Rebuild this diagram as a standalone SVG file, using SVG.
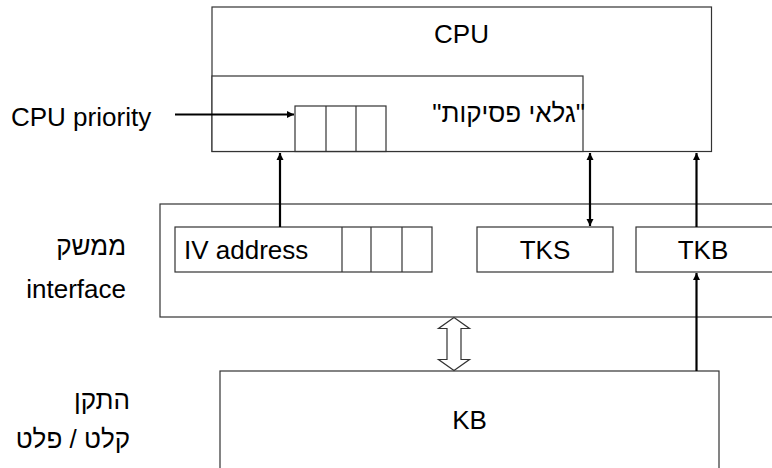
<svg xmlns="http://www.w3.org/2000/svg" width="772" height="468" viewBox="0 0 772 468">
<style>
.box{fill:#fff;stroke:#333;stroke-width:1.2}
.cell{fill:none;stroke:#333;stroke-width:1.2}
.t{font-family:"Liberation Sans",Arial,sans-serif;font-size:26px;fill:#000}
.c{stroke:#000;stroke-width:2.2;fill:none}
.hollow{fill:#fff;stroke:#333;stroke-width:1.2}
</style>
<defs>
<marker id="ah" viewBox="0 0 10 10" refX="10" refY="5" markerWidth="3.4" markerHeight="3.4" markerUnits="strokeWidth" orient="auto-start-reverse">
<path d="M0,0 L10,5 L0,10 z" fill="#000"/>
</marker>
</defs>
<rect width="772" height="468" fill="#fff"/>
<g id="cpu">
<rect class="box" x="212" y="7" width="499.5" height="144.5"/>
<text class="t" x="461.5" y="43" text-anchor="middle">CPU</text>
</g>
<g id="interrupt-detector">
<rect class="box" x="212" y="76" width="371" height="75.5"/>
<text class="t" x="585" y="122" text-anchor="end">"גלאי פסיקות"</text>
</g>
<g id="priority-register">
<rect class="cell" x="295" y="106" width="91" height="45.5"/>
<line class="cell" x1="326" y1="106" x2="326" y2="151.5"/>
<line class="cell" x1="356" y1="106" x2="356" y2="151.5"/>
</g>
<g id="cpu-priority-label">
<text class="t" x="11" y="126">CPU priority</text>
</g>
<g id="interface">
<rect class="box" x="160" y="204" width="630" height="113"/>
</g>
<g id="interface-label">
<text class="t" x="126" y="255" text-anchor="end">ממשק</text>
<text class="t" x="126" y="298" text-anchor="end">interface</text>
</g>
<g id="iv-address">
<rect class="box" x="175" y="227" width="257" height="45"/>
<line class="cell" x1="342" y1="227" x2="342" y2="272"/>
<line class="cell" x1="371" y1="227" x2="371" y2="272"/>
<line class="cell" x1="402" y1="227" x2="402" y2="272"/>
<text class="t" x="184" y="259">IV address</text>
</g>
<g id="tks">
<rect class="box" x="477" y="227" width="136" height="45"/>
<text class="t" x="545" y="259" text-anchor="middle">TKS</text>
</g>
<g id="tkb">
<rect class="box" x="636" y="227" width="150" height="45"/>
<text class="t" x="703" y="259" text-anchor="middle">TKB</text>
</g>
<g id="kb">
<rect class="box" x="220" y="371" width="499" height="120"/>
<text class="t" x="469.5" y="429" text-anchor="middle">KB</text>
</g>
<g id="device-label">
<text class="t" x="130" y="409" text-anchor="end">התקן</text>
<text class="t" x="130" y="448" text-anchor="end">קלט / פלט</text>
</g>
<g id="connectors">
<line class="c" x1="175" y1="114.5" x2="294" y2="114.5" marker-end="url(#ah)"/>
<line class="c" x1="280" y1="227" x2="280" y2="153" marker-end="url(#ah)"/>
<line class="c" x1="590" y1="153" x2="590" y2="226" marker-start="url(#ah)" marker-end="url(#ah)"/>
<line class="c" x1="696.5" y1="227" x2="696.5" y2="153" marker-end="url(#ah)"/>
<line class="c" x1="696.5" y1="371" x2="696.5" y2="273" marker-end="url(#ah)"/>
<polygon class="hollow" points="454,317.5 469.5,328.5 461,328.5 461,359.5 469.5,359.5 454,370.5 438.5,359.5 447,359.5 447,328.5 438.5,328.5"/>
</g>
</svg>
